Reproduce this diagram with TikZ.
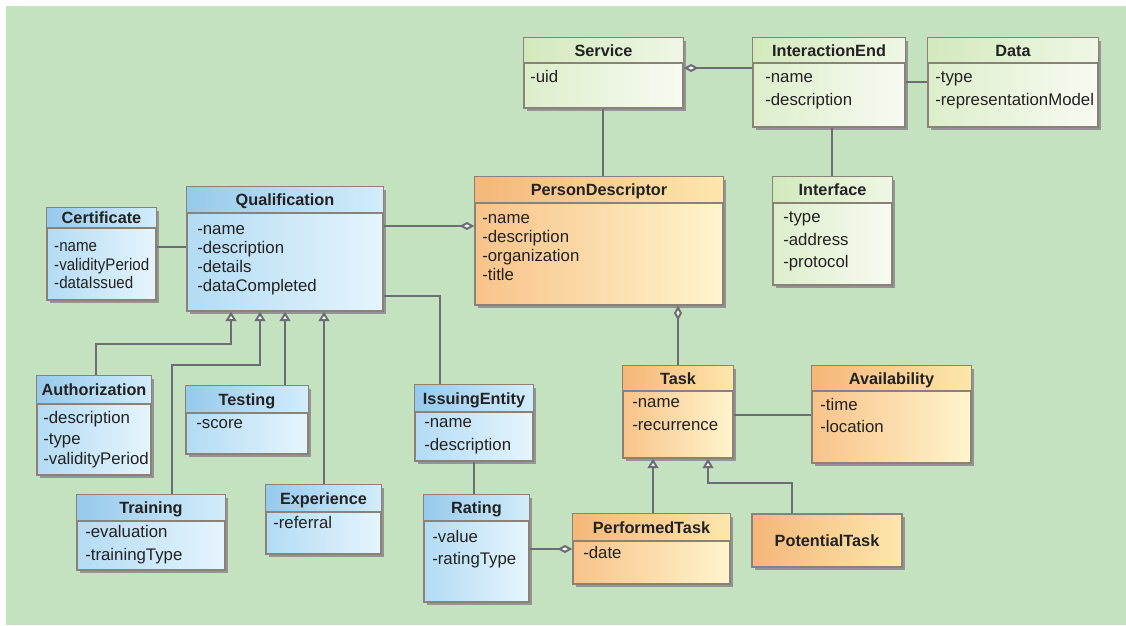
\documentclass[tikz,border=0pt]{standalone}
\usepackage{fontspec}
\setmainfont{Liberation Sans}
\usetikzlibrary{arrows.meta,shadows,fit}

\definecolor{bg}{HTML}{C4E1C0}
\definecolor{framec}{HTML}{8A8276}
\definecolor{linec}{HTML}{6C6C74}
\definecolor{textc}{HTML}{222222}
% blue palette
\definecolor{blueTL}{HTML}{96C9EC}\definecolor{blueTR}{HTML}{D2EDFB}
\definecolor{blueBL}{HTML}{B3DBF4}\definecolor{blueBR}{HTML}{E6F5FD}
% orange palette
\definecolor{orTL}{HTML}{F5B679}\definecolor{orTR}{HTML}{FDE7AC}
\definecolor{orBL}{HTML}{F8C38A}\definecolor{orBR}{HTML}{FFF5CD}
% green palette
\definecolor{grTL}{HTML}{D2E9BC}\definecolor{grTR}{HTML}{EFF7E5}
\definecolor{grBL}{HTML}{DDEECB}\definecolor{grBR}{HTML}{F7FBF2}

\tikzset{
  classbox/.style={draw=framec, line width=1.1pt, inner sep=0pt,
    drop shadow={shadow xshift=2.2pt, shadow yshift=-2.2pt, fill=black!42, opacity=1}},
  frame/.style={draw=framec, line width=1.1pt},
  rule/.style={draw=framec, line width=1.1pt},
  blue body/.style={left color=blueBL, right color=blueBR},
  blue title/.style={left color=blueTL, right color=blueTR},
  orange body/.style={left color=orBL, right color=orBR},
  orange title/.style={left color=orTL, right color=orTR},
  green body/.style={left color=grBL, right color=grBR},
  green title/.style={left color=grTL, right color=grTR},
  classtitle/.style={anchor=base, inner sep=0pt, text=textc,
    font=\bfseries\fontsize{12.2}{14}\selectfont},
  attr/.style={anchor=base west, inner sep=0pt, text=textc,
    font=\fontsize{12.6}{14}\selectfont},
  narrowattr/.style={xscale=0.9, transform shape},
  conn/.style={draw=linec, line width=1.5pt},
  agg/.style={conn, {Diamond[open, fill=white, length=11pt, width=6pt]}-},
  aggend/.style={conn, -{Diamond[open, fill=white, length=11pt, width=6pt]}},
  gen/.style={conn, -{Triangle[open, fill=white, length=7pt, width=8pt]}},
}

% class box: name, left, top, right, bottom, divider y, palette, title
\newcommand\umlclass[8]{%
  \node[classbox, #7 body, fit={(#2,#3) (#4,#5)}] (#1) {};
  \path[#7 title] (#1.north west) rectangle (#1.east |- 0,#6);
  \draw[rule] (#1.west |- 0,#6) -- (#1.east |- 0,#6);
  \draw[frame] (#1.north west) rectangle (#1.south east);
  \node[classtitle] (#1-title) at ({(#2+#4)/2},{(#3+#6)/2+5.8}) {#8};
}
% attribute lines: [extra style] name, x, centre of first line, line step, list
\newcommand\umlattrs[6][]{%
  \foreach \lbl [count=\i] in {#6}
    \node[attr, #1] (#2-a\i) at (#3,{#4+(\i-1)*#5+5.8}) {\lbl};
}

\begin{document}
\begin{tikzpicture}[x=0.75pt, y=-0.75pt]
\useasboundingbox (0,0) rectangle (1126,625);
\fill[bg] (6,6) rectangle (1126,625);

% service side (green)
\umlclass{service}{524}{38}{683}{108}{63}{green}{Service}
\umlattrs{service}{530}{77}{23}{-uid}
\umlclass{iend}{753}{38}{905}{127}{63}{green}{InteractionEnd}
\umlattrs{iend}{765}{77}{23}{-name,-description}
\umlclass{data}{928}{38}{1098}{127}{63}{green}{Data}
\umlattrs{data}{935}{77}{23}{-type,-representationModel}
\umlclass{iface}{773}{177}{892}{285}{203}{green}{Interface}
\umlattrs{iface}{783}{217}{22.5}{-type,-address,-protocol}

% person and tasks (orange)
\umlclass{pd}{475}{177}{723}{305}{203}{orange}{PersonDescriptor}
\umlattrs{pd}{482}{218}{19}{-name,-description,-organization,-title}
\umlclass{task}{623}{366}{733}{458}{391}{orange}{Task}
\umlattrs{task}{632}{402}{23}{-name,-recurrence}
\umlclass{avail}{812}{366}{971}{463}{391}{orange}{Availability}
\umlattrs{avail}{820}{405}{22}{-time,-location}
\umlclass{ptask}{573}{514}{730}{584}{541}{orange}{PerformedTask}
\umlattrs{ptask}{583}{553}{22}{-date}
\node[classbox, orange title, fit={(752,514) (902,567)}] (pot) {};
\node[classtitle] (pot-title) at (827,546.5) {PotentialTask};

% qualifications (blue)
\umlclass{qual}{187}{187}{383}{311}{213}{blue}{Qualification}
\umlattrs{qual}{197}{229}{19}{-name,-description,-details,-dataCompleted}
\umlclass{cert}{47}{208}{156}{300}{228}{blue}{Certificate}
\umlattrs[narrowattr]{cert}{54}{246}{18.5}{-name,-validityPeriod,-dataIssued}
\umlclass{auth}{37}{376}{151}{475}{404}{blue}{Authorization}
\umlattrs{auth}{43}{418}{20.5}{-description,-type,-validityPeriod}
\umlclass{testing}{186}{386}{308}{454}{413}{blue}{Testing}
\umlattrs{testing}{196}{423}{22}{-score}
\umlclass{training}{77}{495}{225}{570}{521}{blue}{Training}
\umlattrs{training}{85}{532}{23}{-evaluation,-trainingType}
\umlclass{exp}{266}{485}{381}{554}{512}{blue}{Experience}
\umlattrs{exp}{273}{523}{22}{-referral}
\umlclass{issuer}{415}{385}{533}{461}{412}{blue}{IssuingEntity}
\umlattrs{issuer}{424}{422}{23}{-name,-description}
\umlclass{rating}{424}{495}{529}{602}{521}{blue}{Rating}
\umlattrs{rating}{432}{537}{22}{-value,-ratingType}

% associations and aggregations
\draw[agg] (service.east |- 0,68) -- (iend.west |- 0,68);
\draw[conn] (iend.east |- 0,82) -- (data.west |- 0,82);
\draw[conn] (iend.south -| 832,0) -- (iface.north -| 832,0);
\draw[conn] (service.south -| 603,0) -- (pd.north -| 603,0);
\draw[aggend] (qual.east |- 0,226) -- (pd.west |- 0,226);
\draw[conn] (cert.east |- 0,247) -- (qual.west |- 0,247);
\draw[conn] (qual.east |- 0,296) -| (issuer.north -| 440,0);
\draw[conn] (issuer.south -| 474,0) -- (rating.north -| 474,0);
\draw[aggend] (rating.east |- 0,549) -- (ptask.west |- 0,549);
\draw[agg] (pd.south -| 678,0) -- (task.north -| 678,0);
\draw[conn] (task.east |- 0,415) -- (avail.west |- 0,415);

% generalizations
\draw[gen] (auth.north -| 96,0) |- (231,344) -- (qual.south -| 231,0);
\draw[gen] (training.north -| 172,0) |- (260,365) -- (qual.south -| 260,0);
\draw[gen] (testing.north -| 285,0) -- (qual.south -| 285,0);
\draw[gen] (exp.north -| 324,0) -- (qual.south -| 324,0);
\draw[gen] (ptask.north -| 653,0) -- (task.south -| 653,0);
\draw[gen] (pot.north -| 792,0) |- (708,483) -- (task.south -| 708,0);
\end{tikzpicture}
\end{document}
